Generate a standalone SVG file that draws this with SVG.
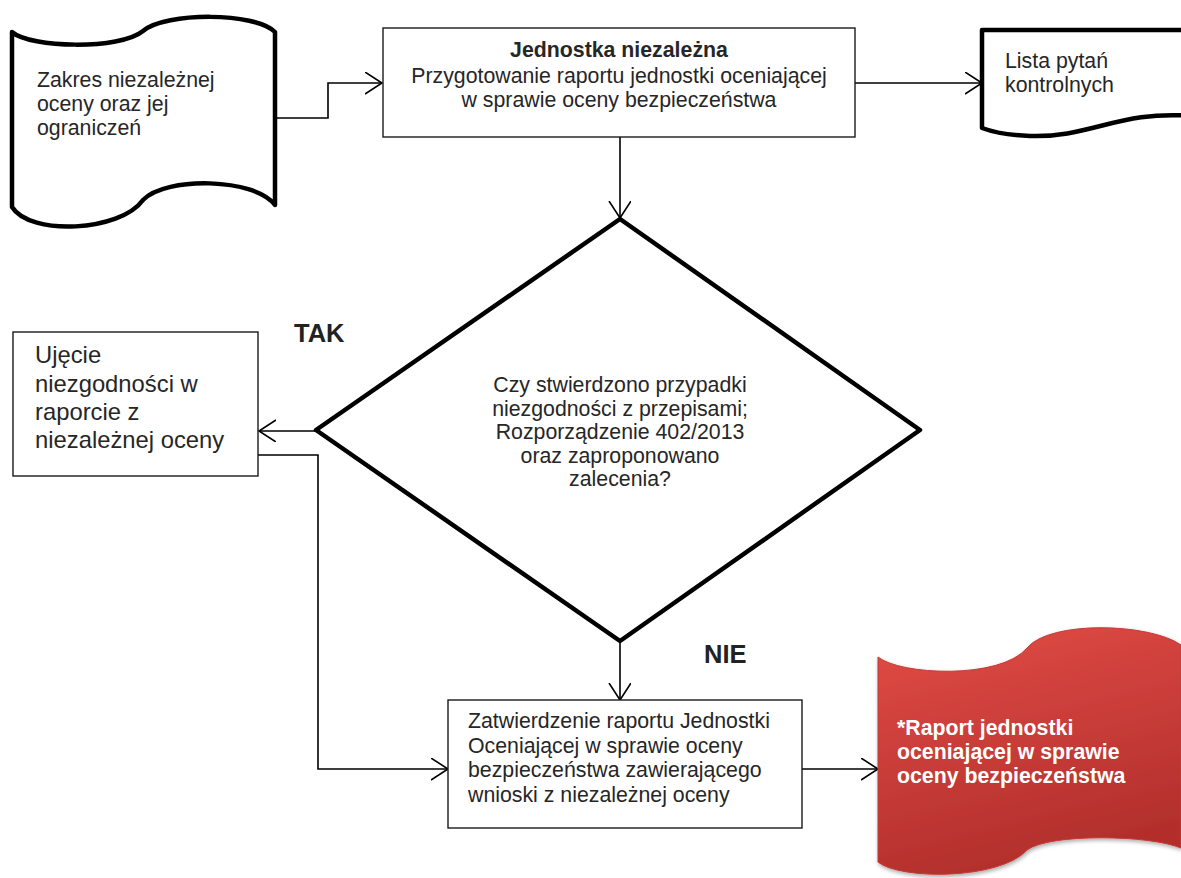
<svg xmlns="http://www.w3.org/2000/svg" width="1181" height="878" viewBox="0 0 1181 878">
<defs>
<style>
.t{font-family:"Liberation Sans",Arial,sans-serif;font-size:21.3px;fill:#262626}
.b{font-weight:bold}
.thick{fill:#fff;stroke:#000;stroke-width:4.5;stroke-linejoin:round}
.box{fill:#fff;stroke:#1a1a1a;stroke-width:1.4}
.con{fill:none;stroke:#000;stroke-width:1.6}
.lbl{font-family:"Liberation Sans",Arial,sans-serif;font-size:25.5px;font-weight:bold;fill:#222}
</style>
<marker id="ah" markerWidth="20" markerHeight="24" refX="17" refY="11" orient="auto" markerUnits="userSpaceOnUse">
<path d="M0,0 L17,11 L0,22" fill="none" stroke="#000" stroke-width="1.6"/>
</marker>
<linearGradient id="red" x1="0" y1="0" x2="0.3" y2="1">
<stop offset="0" stop-color="#e24c46"/>
<stop offset="1" stop-color="#b32f2c"/>
</linearGradient>
<filter id="sh" x="-10%" y="-10%" width="120%" height="120%">
<feGaussianBlur in="SourceAlpha" stdDeviation="2"/>
<feOffset dx="1" dy="2" result="o"/>
<feComponentTransfer><feFuncA type="linear" slope="0.35"/></feComponentTransfer>
<feMerge><feMergeNode/><feMergeNode in="SourceGraphic"/></feMerge>
</filter>
</defs>
<rect width="1181" height="878" fill="#fff"/>

<g id="connectors">
<polyline class="con" points="275,118 328,118 328,83 382,83" marker-end="url(#ah)"/>
<line class="con" x1="855" y1="83" x2="982" y2="83" marker-end="url(#ah)"/>
<line class="con" x1="620" y1="137" x2="620" y2="218" marker-end="url(#ah)"/>
<line class="con" x1="316" y1="431" x2="259" y2="431" marker-end="url(#ah)"/>
<polyline class="con" points="258,455 318,455 318,769 448,769" marker-end="url(#ah)"/>
<line class="con" x1="620" y1="641" x2="620" y2="700" marker-end="url(#ah)"/>
<line class="con" x1="802" y1="769" x2="878" y2="769" marker-end="url(#ah)"/>
</g>

<g id="zakres">
<path class="thick" d="M12,32 C30,48 120,50 143,31 C166,12 255,12 275,32 L275,205 C255,178 166,176 143,200 C120,232 30,236 12,207 Z"/>
<text class="t" x="37" y="87">Zakres niezależnej</text>
<text class="t" x="37" y="111">oceny oraz jej</text>
<text class="t" x="37" y="135">ograniczeń</text>
</g>

<g id="jednostka">
<rect class="box" x="383" y="28" width="472" height="109"/>
<text class="t b" x="619" y="57" text-anchor="middle">Jednostka niezależna</text>
<text class="t" x="619" y="83" text-anchor="middle">Przygotowanie raportu jednostki oceniającej</text>
<text class="t" x="619" y="107" text-anchor="middle">w sprawie oceny bezpieczeństwa</text>
</g>

<g id="lista">
<path class="thick" d="M982,30 H1192 V116 C1120,110 1090,138 1030,136 C1005,135 990,131 982,128 Z"/>
<text class="t" x="1005" y="68">Lista pytań</text>
<text class="t" x="1005" y="92">kontrolnych</text>
</g>

<g id="decyzja">
<polygon class="thick" points="620,219 920,430 620,641 316,430"/>
<text class="t" x="620" y="392" text-anchor="middle">Czy stwierdzono przypadki</text>
<text class="t" x="620" y="416" text-anchor="middle">niezgodności z przepisami;</text>
<text class="t" x="620" y="439" text-anchor="middle">Rozporządzenie 402/2013</text>
<text class="t" x="620" y="463" text-anchor="middle">oraz zaproponowano</text>
<text class="t" x="620" y="486" text-anchor="middle">zalecenia?</text>
</g>

<g id="tak">
<text class="lbl" x="294" y="342">TAK</text>
</g>
<g id="nie">
<text class="lbl" x="704" y="663">NIE</text>
</g>

<g id="ujecie">
<rect class="box" x="13" y="332" width="245" height="144"/>
<text class="t" x="35" y="363" style="font-size:23.8px">Ujęcie</text>
<text class="t" x="35" y="392" style="font-size:23.8px">niezgodności w</text>
<text class="t" x="35" y="420" style="font-size:23.8px">raporcie z</text>
<text class="t" x="35" y="448" style="font-size:23.8px">niezależnej oceny</text>
</g>

<g id="zatwierdzenie">
<rect class="box" x="448" y="700" width="354" height="128"/>
<text class="t" x="468" y="728">Zatwierdzenie raportu Jednostki</text>
<text class="t" x="468" y="753">Oceniającej w sprawie oceny</text>
<text class="t" x="468" y="777">bezpieczeństwa zawierającego</text>
<text class="t" x="468" y="802">wnioski z niezależnej oceny</text>
</g>

<g id="raport">
<path filter="url(#sh)" fill="url(#red)" stroke="#c23a36" stroke-width="1" d="M878,657 C900,675 1000,680 1027,648 C1050,620 1150,623 1181,645 V848 C1150,835 1050,833 1027,850 C1000,880 900,880 878,862 Z"/>
<text class="t b" x="897" y="735" style="fill:#fff">*Raport jednostki</text>
<text class="t b" x="897" y="759" style="fill:#fff">oceniającej w sprawie</text>
<text class="t b" x="897" y="783" style="fill:#fff">oceny bezpieczeństwa</text>
</g>
</svg>
